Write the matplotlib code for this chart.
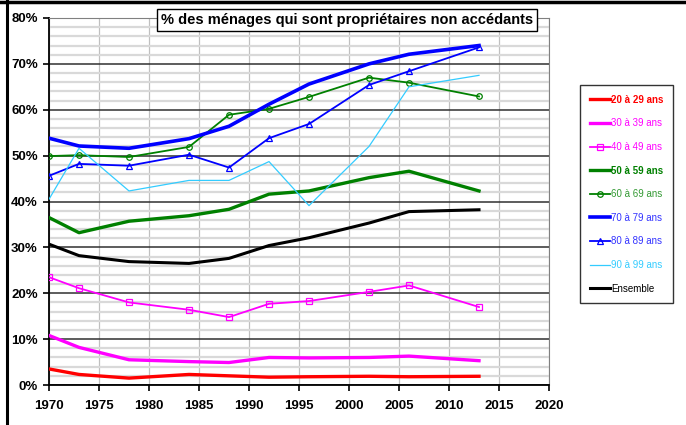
import matplotlib
matplotlib.use("Agg")
import matplotlib.pyplot as plt
from matplotlib.lines import Line2D
from matplotlib.ticker import MultipleLocator, FuncFormatter

years = [1970, 1973, 1978, 1984, 1988, 1992, 1996, 2002, 2006, 2013]
s20 = [3.5, 2.3, 1.5, 2.3, 2.0, 1.7, 1.8, 1.9, 1.8, 1.9]
s30 = [10.8, 8.2, 5.5, 5.1, 4.9, 6.0, 5.9, 6.0, 6.3, 5.3]
s40 = [23.5, 21.1, 18.0, 16.4, 14.8, 17.7, 18.3, 20.3, 21.7, 17.0]
s50 = [36.5, 33.2, 35.7, 36.9, 38.3, 41.6, 42.3, 45.2, 46.6, 42.3]
s60 = [49.9, 50.1, 49.7, 51.9, 58.9, 60.2, 62.8, 67.0, 65.9, 62.9]
s70 = [53.8, 52.1, 51.6, 53.7, 56.4, 61.2, 65.6, 70.0, 72.1, 74.0]
s80 = [45.6, 48.2, 47.8, 50.2, 47.4, 53.8, 56.9, 65.4, 68.4, 73.6]
s90 = [40.5, 51.6, 42.3, 44.6, 44.6, 48.7, 39.1, 52.0, 65.0, 67.5]
ensemble = [30.7, 28.2, 26.9, 26.5, 27.6, 30.4, 32.1, 35.3, 37.8, 38.2]
labels = ["20 à 29 ans", "30 à 39 ans", "40 à 49 ans", "50 à 59 ans", "60 à 69 ans",
          "70 à 79 ans", "80 à 89 ans", "90 à 99 ans", "Ensemble"]
title = "% des ménages qui sont propriétaires non accédants"

plt.rcParams['font.family'] = ['Liberation Sans', 'DejaVu Sans']

fig = plt.figure(figsize=(6.86, 4.25), dpi=100)
ax = fig.add_axes([49/686, 1-385/425, 500/686, 367/425])

series = [
    (s20, dict(color='#ff0000', lw=2.4), '#ff0000', 'bold'),
    (s30, dict(color='#ff00ff', lw=2.4), '#ff00ff', 'normal'),
    (s40, dict(color='#ff00ff', lw=1.3, marker='s', ms=4, mfc='none', mew=0.9), '#ff00ff', 'normal'),
    (s50, dict(color='#008000', lw=2.4), '#008000', 'bold'),
    (s60, dict(color='#008000', lw=1.3, marker='o', ms=4, mfc='none', mew=0.9), '#339933', 'normal'),
    (s70, dict(color='#0000ff', lw=2.6), '#3333ff', 'normal'),
    (s80, dict(color='#0000ff', lw=1.3, marker='^', ms=4, mfc='none', mew=0.9), '#3333ff', 'normal'),
    (s90, dict(color='#33ccff', lw=0.9), '#33ccff', 'normal'),
    (ensemble, dict(color='#000000', lw=2.2), '#000000', 'normal'),
]
handles = []
for (vals, kw, tc, fw), lab in zip(series, labels):
    h, = ax.plot(years, vals, label=lab, zorder=3, **kw)
    handles.append(h)

ax.set_xlim(1970, 2020)
ax.set_ylim(0, 80)
ax.xaxis.set_major_locator(MultipleLocator(5))
ax.yaxis.set_major_locator(MultipleLocator(10))
ax.yaxis.set_minor_locator(MultipleLocator(2))
ax.yaxis.set_major_formatter(FuncFormatter(lambda v, p: f"{int(round(v))}%"))
ax.grid(axis='y', which='minor', color='#d9d9d9', lw=1.6, zorder=0)
ax.grid(axis='y', which='major', color='#303030', lw=1.1, zorder=1)
ax.grid(axis='x', which='major', color='#c0c0c0', lw=0.9, zorder=1)
ax.tick_params(axis='x', which='major', direction='out', length=4, width=1.2,
               labelsize=9.5, pad=7)
ax.tick_params(axis='y', which='major', direction='out', length=4, width=1.2,
               labelsize=9.5, pad=4)
ax.tick_params(axis='y', which='minor', length=0)
for lbl in ax.get_xticklabels() + ax.get_yticklabels():
    lbl.set_fontweight('bold')
ax.spines['left'].set_linewidth(1.3)
ax.spines['bottom'].set_linewidth(1.3)
ax.spines['top'].set_color('#808080')
ax.spines['right'].set_color('#808080')
ax.set_axisbelow(True)

fig.text(347/686, 1-20/425, title, ha='center', va='center', fontsize=10.5, fontweight='bold',
         bbox=dict(boxstyle='square,pad=0.3', fc='white', ec='black', lw=1.0), zorder=5)

leg = fig.legend(handles=handles, loc='upper left', bbox_to_anchor=(580/686, 1-85/425),
                 fontsize=7, frameon=True, fancybox=False, edgecolor='black',
                 handlelength=2.1, handletextpad=0.1, labelspacing=1.4,
                 borderpad=1.0, borderaxespad=0)
leg.get_frame().set_linewidth(1.0)
for t, (vals, kw, tc, fw) in zip(leg.get_texts(), series):
    t.set_color(tc)
    t.set_fontweight(fw)

fig.add_artist(Line2D([7/686, 7/686], [0, 1], color='black', lw=2.2, transform=fig.transFigure))
fig.add_artist(Line2D([0, 1], [1-1.5/425, 1-1.5/425], color='black', lw=2.5, transform=fig.transFigure))

fig.savefig('out.png', dpi=100)
